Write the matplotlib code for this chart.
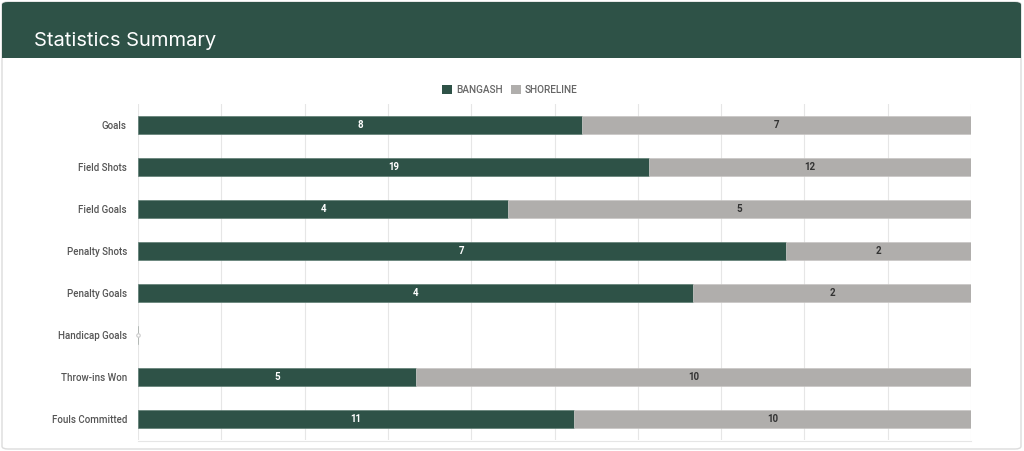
import matplotlib
matplotlib.use("Agg")
import matplotlib.pyplot as plt
from matplotlib.patches import FancyBboxPatch, Rectangle
import numpy as np

categories = ["Goals", "Field Shots", "Field Goals", "Penalty Shots", "Penalty Goals",
              "Handicap Goals", "Throw-ins Won", "Fouls Committed"]
bangash = [8, 19, 4, 7, 4, 0, 5, 11]
shoreline = [7, 12, 5, 2, 2, 0, 10, 10]
series_names = ["BANGASH", "SHORELINE"]
title = "Statistics Summary"

GREEN = "#2e5247"
GRAY = "#b0aeac"

plt.rcParams['font.family'] = ['Roboto', 'DejaVu Sans']

fig = plt.figure(figsize=(10.24, 4.51), dpi=100)
W, H = 1024, 451

def fx(x): return x / W
def fy(y): return 1 - y / H

# card background and border
card = FancyBboxPatch((fx(2), fy(449)), fx(1019), (447) / H,
                      boxstyle="round,pad=0,rounding_size=0.006",
                      transform=fig.transFigure, facecolor="white",
                      edgecolor="#dcdcdc", linewidth=1.0, zorder=0)
fig.patches.append(card)
header = FancyBboxPatch((fx(2), fy(58)), fx(1019), 56 / H,
                        boxstyle="round,pad=0,rounding_size=0.006",
                        transform=fig.transFigure, facecolor=GREEN,
                        edgecolor="none", zorder=1)
fig.patches.append(header)
fig.patches.append(Rectangle((fx(2), fy(58)), fx(1019), 10 / H,
                             transform=fig.transFigure, facecolor=GREEN,
                             edgecolor="none", zorder=1))
fig.text(fx(34), fy(46), title, color="white", fontsize=14.5, va="baseline", ha="left",
         zorder=2, family=['Inter', 'DejaVu Sans'])

ax = fig.add_axes([fx(138), fy(440), fx(971 - 138), 336 / H])
ax.set_zorder(3)

b = np.array(bangash, dtype=float)
s = np.array(shoreline, dtype=float)
tot = b + s
with np.errstate(invalid="ignore", divide="ignore"):
    bp = np.where(tot > 0, b / tot * 100, 0)
    sp = np.where(tot > 0, s / tot * 100, 0)

y = np.arange(len(categories))
ax.barh(y, bp, height=0.42, color=GREEN, edgecolor="#5f7d74", linewidth=0.5, zorder=3)
ax.barh(y, sp, left=bp, height=0.42, color=GRAY, edgecolor="#c8c6c4", linewidth=0.5, zorder=3)

for i in range(len(categories)):
    if tot[i] == 0:
        ax.plot([0.05], [y[i]], marker="o", ms=2.5, mfc="white", mec="#cccccc", mew=0.8, zorder=4, clip_on=False)
        continue
    if b[i] > 0:
        ax.text(bp[i] / 2, y[i], str(bangash[i]), color="white", fontsize=7,
                fontweight="bold", ha="center", va="center", zorder=5)
    if s[i] > 0:
        ax.text(bp[i] + sp[i] / 2, y[i], str(shoreline[i]), color="#333333", fontsize=7,
                fontweight="bold", ha="center", va="center", zorder=5)

ax.set_xlim(0, 100)
ax.set_ylim(len(categories) - 0.5, -0.5)
ax.set_yticks(y)
ax.set_yticklabels(categories, fontsize=7, color="#555555", fontweight="medium")
ax.set_xticks(np.arange(0, 101, 10))
ax.set_xticklabels([])
ax.tick_params(axis="both", length=0, pad=8)
ax.grid(axis="x", color="#e6e6e6", linewidth=0.8, zorder=0)
ax.set_axisbelow(True)
for sp_name in ["top", "right", "left"]:
    ax.spines[sp_name].set_visible(False)
ax.spines["bottom"].set_color("#e6e6e6")
ax.spines["bottom"].set_linewidth(0.8)
ax.spines["bottom"].set_position(("data", 7.52))
ax.patch.set_alpha(0)

# legend
handles = [Rectangle((0, 0), 1, 1, facecolor=GREEN, edgecolor="none"),
           Rectangle((0, 0), 1, 1, facecolor=GRAY, edgecolor="none")]
leg = fig.legend(handles, series_names, loc="center", bbox_to_anchor=(fx(510), fy(90)),
                 ncol=2, frameon=False, handlelength=1.0, handleheight=1.0,
                 handletextpad=0.4, columnspacing=0.8, labelcolor="#666666",
                 prop={"size": 7.2, "weight": "medium", "family": ["Roboto", "DejaVu Sans"]})

fig.savefig("out.png", dpi=100)
